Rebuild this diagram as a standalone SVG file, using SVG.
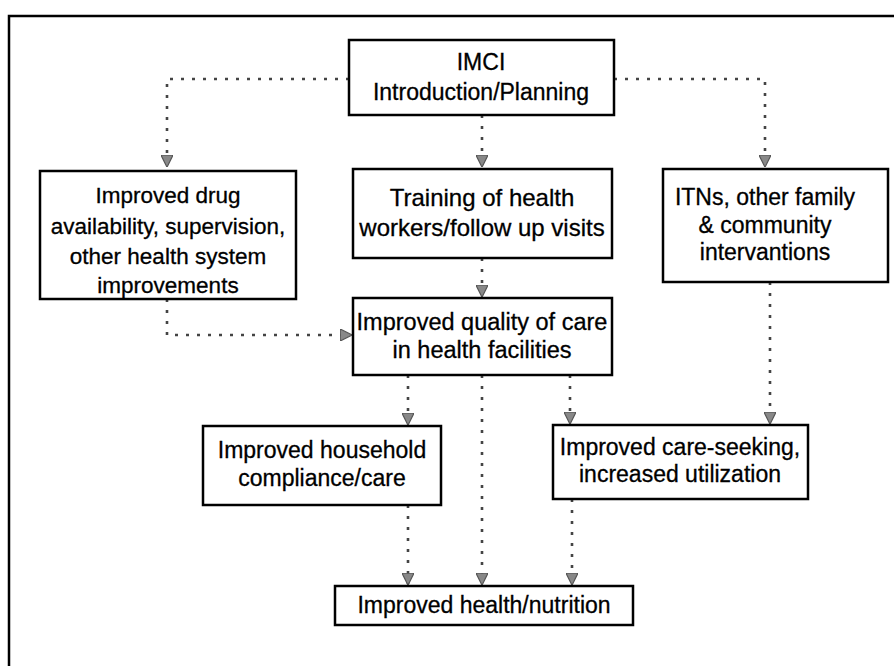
<svg xmlns="http://www.w3.org/2000/svg" width="894" height="666" viewBox="0 0 894 666">
<defs>
<style>
.box{fill:#fff;stroke:#000;stroke-width:2.5}
.t{font-family:"Liberation Sans",Arial,sans-serif;font-size:23px;fill:#000;stroke:#000;stroke-width:0.3;text-anchor:middle}
.c{fill:none;stroke:#444;stroke-width:2.6;stroke-dasharray:3 8;marker-end:url(#ah)}
.frame{fill:none;stroke:#000;stroke-width:2.5}
</style>
<marker id="ah" viewBox="0 0 10 10" refX="9" refY="5" markerWidth="4.6" markerHeight="4.6" orient="auto" markerUnits="strokeWidth">
<path d="M0,0 L10,5 L0,10 Z" fill="#888" stroke="#555" stroke-width="1"/>
</marker>
</defs>
<rect width="894" height="666" fill="#fff"/>
<path class="frame" d="M9,666 V16 H894"/>
<g id="connectors">
<path class="c" d="M349,79 H167 V166"/>
<path class="c" d="M482,115 V166"/>
<path class="c" d="M614,79 H765 V166"/>
<path class="c" d="M482,258 V296"/>
<path class="c" d="M167,299 V335 H351"/>
<path class="c" d="M770,282 V423"/>
<path class="c" d="M408,375 V424"/>
<path class="c" d="M570,375 V423"/>
<path class="c" d="M482,375 V584"/>
<path class="c" d="M408,505 V584"/>
<path class="c" d="M572,499 V584"/>
</g>
<g id="imci">
<rect class="box" x="349" y="40" width="265" height="75"/>
<text class="t" x="481" y="70">IMCI</text>
<text class="t" x="481" y="100">Introduction/Planning</text>
</g>
<g id="drug">
<rect class="box" x="40" y="171" width="256" height="128"/>
<text class="t" x="168" y="203" style="font-size:22.5px">Improved drug</text>
<text class="t" x="168" y="234" style="font-size:22.5px">availability, supervision,</text>
<text class="t" x="168" y="264" style="font-size:22.5px">other health system</text>
<text class="t" x="168" y="293" style="font-size:22.5px">improvements</text>
</g>
<g id="training">
<rect class="box" x="353" y="169" width="259" height="89"/>
<text class="t" x="482" y="206" style="font-size:24px">Training of health</text>
<text class="t" x="482" y="236" style="font-size:24px">workers/follow up visits</text>
</g>
<g id="itn">
<rect class="box" x="663" y="169" width="225" height="113"/>
<text class="t" x="765" y="205">ITNs, other family</text>
<text class="t" x="765" y="233">&amp; community</text>
<text class="t" x="765" y="260">intervantions</text>
</g>
<g id="quality">
<rect class="box" x="353" y="298" width="259" height="77"/>
<text class="t" x="482" y="330" style="font-size:23.5px">Improved quality of care</text>
<text class="t" x="482" y="358" style="font-size:23.5px">in health facilities</text>
</g>
<g id="household">
<rect class="box" x="203" y="426" width="238" height="79"/>
<text class="t" x="322" y="458">Improved household</text>
<text class="t" x="322" y="486">compliance/care</text>
</g>
<g id="careseeking">
<rect class="box" x="553" y="425" width="255" height="74"/>
<text class="t" x="680" y="455">Improved care-seeking,</text>
<text class="t" x="680" y="482">increased utilization</text>
</g>
<g id="health">
<rect class="box" x="335" y="586" width="298" height="39"/>
<text class="t" x="484" y="613">Improved health/nutrition</text>
</g>
</svg>
